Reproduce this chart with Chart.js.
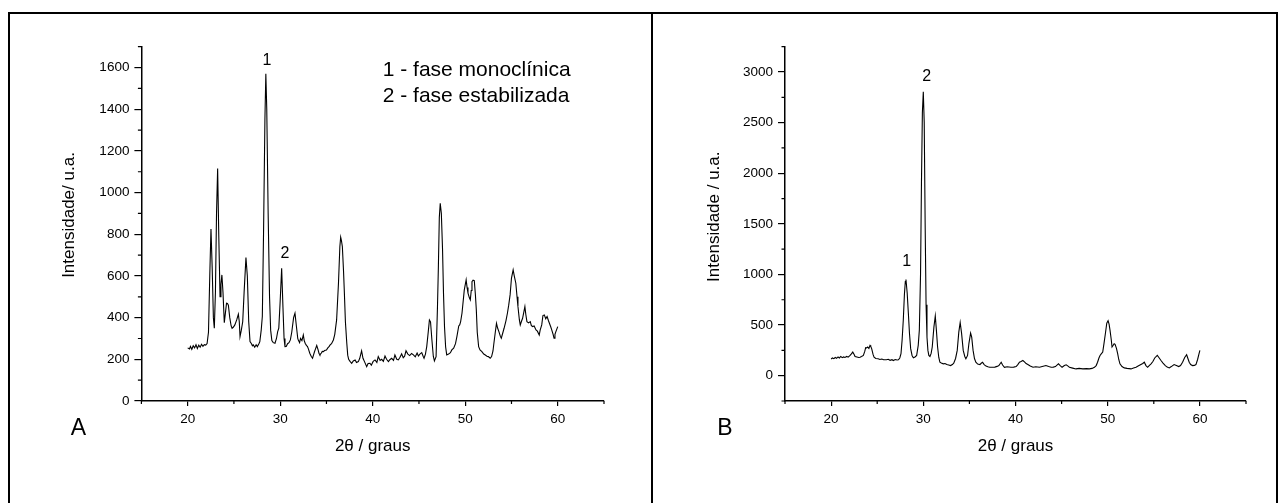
<!DOCTYPE html>
<html>
<head>
<meta charset="utf-8">
<script src="https://cdn.jsdelivr.net/npm/chart.js@4.4.1/dist/chart.umd.min.js"></script>
<style>
  body { margin: 0; background: #fff; width: 1283px; height: 503px; overflow: hidden; position: relative; }
  .frame { position: absolute; top: 12px; height: 520px; border-top: 2px solid #000; border-right: 2px solid #000; }
  #frameA { left: 8px; width: 641px; border-left: 2px solid #000; }
  #frameB { left: 653px; width: 623px; }
  .box { position: absolute; top: 0; height: 503px; }
  #boxA { left: 0; width: 651px; }
  #boxB { left: 651px; width: 632px; }
</style>
</head>
<body>
<div class="frame" id="frameA"></div>
<div class="frame" id="frameB"></div>
<div class="box" id="boxA"><canvas id="chartA"></canvas></div>
<div class="box" id="boxB"><canvas id="chartB"></canvas></div>
<script>
const thetaA = [20.0, 20.2, 20.3, 20.45, 20.6, 20.75, 20.9, 21.05, 21.2, 21.35, 21.5, 21.65, 21.8, 21.95, 22.1, 22.25, 22.4, 22.52, 22.65, 22.78, 22.88, 23.0, 23.12, 23.24, 23.36, 23.5, 23.6, 23.7, 23.82, 23.96,
  24.1, 24.2, 24.3, 24.4, 24.55, 24.7, 24.8, 24.95, 25.1, 25.3, 25.48, 25.58, 25.66, 25.8, 25.95, 26.1, 26.3, 26.45, 26.6, 26.74, 26.9, 27.0, 27.1, 27.25, 27.4, 27.53, 27.7, 27.8, 27.95, 28.07,
  28.2, 28.35, 28.45, 28.55, 28.7, 28.85, 28.97, 29.1, 29.25, 29.44, 29.6, 29.73, 29.85, 30.0, 30.16, 30.3, 30.42, 30.52, 30.65, 30.8, 30.95, 31.1, 31.25, 31.45, 31.6, 31.75, 31.9, 31.96, 32.1, 32.2,
  32.35, 32.5, 32.6, 32.7, 32.85, 32.94, 33.05, 33.2, 33.35, 33.5, 33.6, 33.7, 33.8, 33.95, 34.1, 34.2, 34.3, 34.45, 34.55, 34.67, 34.8, 35.0, 35.15, 35.3, 35.4, 35.55, 35.75, 35.9, 36.1, 36.3,
  36.45, 36.54, 36.62, 36.72, 36.85, 36.94, 37.05, 37.2, 37.3, 37.4, 37.55, 37.73, 37.9, 38.1, 38.25, 38.45, 38.6, 38.8, 38.95, 39.1, 39.35, 39.5, 39.7, 39.85, 40.05, 40.25, 40.45, 40.6, 40.8, 40.97,
  41.15, 41.33, 41.5, 41.7, 41.85, 42.05, 42.25, 42.4, 42.6, 42.77, 42.95, 43.13, 43.3, 43.45, 43.6, 43.8, 44.0, 44.2, 44.4, 44.6, 44.8, 44.94, 45.1, 45.3, 45.45, 45.55, 45.7, 45.84, 46.0, 46.13,
  46.25, 46.4, 46.55, 46.67, 46.85, 47.0, 47.1, 47.2, 47.3, 47.42, 47.55, 47.65, 47.76, 47.88, 48.0, 48.2, 48.4, 48.55, 48.75, 48.95, 49.1, 49.3, 49.4, 49.5, 49.65, 49.9, 50.1, 50.2, 50.3, 50.45,
  50.55, 50.65, 50.73, 50.85, 50.98, 51.1, 51.2, 51.3, 51.45, 51.6, 51.8, 52.0, 52.17, 52.35, 52.5, 52.7, 52.85, 53.0, 53.1, 53.25, 53.38, 53.5, 53.64, 53.8, 53.9, 54.05, 54.2, 54.4, 54.56, 54.7,
  54.85, 55.0, 55.18, 55.3, 55.47, 55.6, 55.7, 55.85, 55.95, 56.1, 56.2, 56.35, 56.45, 56.55, 56.67, 56.85, 57.03, 57.15, 57.3, 57.45, 57.65, 57.8, 58.0, 58.1, 58.27, 58.4, 58.55, 58.7, 58.85, 59.0,
  59.1, 59.25, 59.35, 59.5, 59.6, 59.7, 59.8, 59.9, 60.0];
const intensA = [255, 250, 262, 248, 265, 255, 270, 252, 268, 258, 272, 262, 270, 268, 276, 330, 620, 825, 640, 400, 349, 520, 900, 1115, 800, 500, 560, 605, 520, 376,
  430, 469, 468, 460, 400, 360, 349, 355, 365, 389, 416, 380, 309, 340, 380, 520, 688, 600, 380, 285, 275, 265, 269, 258, 270, 261, 275, 285, 340, 405,
  800, 1350, 1570, 1400, 900, 500, 340, 290, 280, 277, 300, 333, 350, 480, 637, 450, 300, 261, 262, 275, 280, 293, 330, 400, 421, 360, 300, 293, 280, 300,
  290, 317, 290, 277, 266, 262, 250, 229, 215, 205, 220, 235, 248, 266, 245, 228, 221, 230, 238, 237, 242, 245, 255, 262, 269, 275, 293, 320, 389, 565,
  740, 786, 770, 741, 620, 517, 380, 277, 220, 200, 190, 181, 192, 197, 185, 189, 205, 241, 205, 190, 165, 180, 181, 172, 190, 197, 185, 213, 195, 200,
  190, 216, 200, 189, 198, 205, 195, 221, 200, 197, 210, 226, 208, 215, 241, 225, 218, 228, 221, 212, 230, 216, 225, 232, 215, 205, 225, 261, 330, 389,
  380, 293, 215, 192, 213, 450, 645, 880, 949, 900, 725, 520, 357, 260, 221, 225, 232, 245, 253, 275, 309, 360, 365, 380, 421, 533, 581, 545, 517, 495,
  485, 530, 573, 580, 578, 510, 437, 330, 261, 245, 237, 225, 221, 215, 213, 205, 213, 240, 277, 330, 373, 350, 333, 310, 301, 325, 349, 385, 421, 460,
  509, 590, 629, 600, 565, 500, 453, 390, 365, 385, 397, 430, 453, 415, 381, 375, 381, 362, 357, 360, 341, 335, 317, 340, 365, 410, 413, 395, 405, 385,
  373, 355, 341, 320, 301, 320, 333, 345, 357];

const thetaB = [20.0, 20.15, 20.3, 20.45, 20.6, 20.75, 20.9, 21.05, 21.2, 21.35, 21.5, 21.7, 21.85, 22.06, 22.2, 22.35, 22.5, 22.6, 22.8, 23.0, 23.14, 23.3, 23.5, 23.65, 23.75, 23.85, 23.97, 24.1, 24.22, 24.3,
  24.4, 24.55, 24.66, 24.85, 25.1, 25.3, 25.5, 25.7, 26.0, 26.2, 26.4, 26.6, 26.75, 26.95, 27.15, 27.3, 27.45, 27.58, 27.7, 27.83, 27.95, 28.05, 28.12, 28.25, 28.38, 28.5, 28.63, 28.78, 28.92, 29.1,
  29.28, 29.45, 29.57, 29.7, 29.8, 29.9, 30.0, 30.1, 30.2, 30.3, 30.4, 30.5, 30.6, 30.72, 30.85, 30.97, 31.15, 31.3, 31.42, 31.55, 31.68, 31.8, 31.95, 32.17, 32.35, 32.55, 32.75, 32.96, 33.15, 33.3,
  33.5, 33.68, 33.85, 34.0, 34.15, 34.33, 34.5, 34.62, 34.8, 34.95, 35.13, 35.25, 35.4, 35.55, 35.7, 35.9, 36.14, 36.28, 36.43, 36.6, 36.8, 37.0, 37.2, 37.5, 37.76, 38.0, 38.2, 38.35, 38.45, 38.6,
  38.8, 39.1, 39.5, 39.8, 40.07, 40.25, 40.43, 40.6, 40.8, 41.0, 41.15, 41.34, 41.6, 41.9, 42.2, 42.6, 42.9, 43.3, 43.6, 43.86, 44.1, 44.33, 44.5, 44.66, 44.85, 45.05, 45.3, 45.5, 45.7, 45.85,
  46.2, 46.57, 46.9, 47.3, 47.7, 48.0, 48.3, 48.56, 48.75, 48.9, 49.05, 49.17, 49.3, 49.46, 49.6, 49.75, 49.9, 50.04, 50.15, 50.25, 50.38, 50.47, 50.6, 50.7, 50.8, 50.95, 51.08, 51.2, 51.33, 51.55,
  51.8, 52.1, 52.53, 52.8, 53.07, 53.3, 53.6, 53.8, 53.97, 54.15, 54.33, 54.5, 54.7, 54.9, 55.1, 55.38, 55.55, 55.78, 56.0, 56.25, 56.45, 56.68, 56.9, 57.2, 57.45, 57.7, 57.9, 58.12, 58.35, 58.56,
  58.7, 58.84, 59.0, 59.2, 59.4, 59.57, 59.75, 59.9, 60.0];
const intensB = [165, 175, 168, 180, 172, 185, 175, 190, 178, 185, 180, 190, 183, 200, 215, 233, 210, 190, 185, 180, 183, 190, 200, 240, 277, 275, 283, 270, 300, 290,
  267, 210, 183, 170, 167, 160, 165, 158, 157, 162, 152, 158, 150, 160, 155, 157, 175, 217, 350, 550, 800, 930, 950, 820, 617, 420, 267, 200, 177, 185,
  200, 300, 450, 1000, 1900, 2600, 2805, 2500, 1500, 700, 380, 250, 200, 190, 220, 283, 480, 590, 450, 283, 180, 133, 125, 117, 120, 110, 105, 100, 110, 123,
  170, 250, 430, 525, 420, 250, 190, 167, 200, 320, 420, 380, 250, 170, 133, 115, 110, 123, 133, 110, 95, 88, 83, 83, 85, 92, 100, 120, 133, 105,
  83, 88, 83, 85, 90, 110, 133, 140, 150, 135, 120, 110, 95, 83, 88, 83, 90, 100, 90, 83, 85, 90, 105, 117, 100, 83, 100, 107, 95, 83,
  75, 67, 72, 67, 70, 67, 72, 83, 100, 133, 175, 200, 215, 233, 320, 417, 520, 543, 510, 450, 360, 283, 300, 315, 310, 270, 217, 160, 117, 90,
  77, 72, 67, 75, 83, 95, 110, 120, 133, 100, 83, 100, 117, 140, 175, 200, 180, 150, 125, 100, 85, 77, 90, 110, 100, 90, 100, 133, 180, 207,
  170, 133, 110, 100, 102, 110, 160, 215, 250];

// eixos
const xMajorTicks = [20, 30, 40, 50, 60];
const xMinorTicks = [15, 25, 35, 45, 55, 65];
const yMajorTicksA = [0, 200, 400, 600, 800, 1000, 1200, 1400, 1600];
const yMinorTicksA = [100, 300, 500, 700, 900, 1100, 1300, 1500, 1700];
const yMajorTicksB = [0, 500, 1000, 1500, 2000, 2500, 3000];
const yMinorTicksB = [-250, 250, 750, 1250, 1750, 2250, 2750, 3250];

const FONT = "'Liberation Sans', Arial, sans-serif";
Chart.defaults.font.family = FONT;
Chart.defaults.color = '#000';

// ticks secundários (menores) desenhados a partir das escalas
const minorTicksPlugin = {
    id: 'minorTicks',
    afterDraw(chart, args, opts) {
        const ctx = chart.ctx;
        const xs = chart.scales.x, ys = chart.scales.y;
        ctx.save();
        ctx.strokeStyle = '#000';
        ctx.lineWidth = 1.2;
        ctx.beginPath();
        (opts.x || []).forEach(v => {
            const px = xs.getPixelForValue(v);
            ctx.moveTo(px, xs.top);
            ctx.lineTo(px, xs.top + 3);
        });
        (opts.y || []).forEach(v => {
            const py = ys.getPixelForValue(v);
            ctx.moveTo(ys.right, py);
            ctx.lineTo(ys.right - 3.5, py);
        });
        ctx.stroke();
        ctx.restore();
    }
};

// textos: rótulos de picos (coordenadas de dados) e textos livres (pixels)
const panelTextPlugin = {
    id: 'panelText',
    afterDraw(chart, args, opts) {
        const ctx = chart.ctx;
        ctx.save();
        ctx.fillStyle = '#000';
        (opts.items || []).forEach(it => {
            let x = it.x, y = it.y;
            if (it.data) {
                x = chart.scales.x.getPixelForValue(it.x);
                y = chart.scales.y.getPixelForValue(it.y);
            }
            ctx.save();
            ctx.font = it.size + 'px ' + FONT;
            ctx.textAlign = it.align || 'center';
            ctx.textBaseline = 'middle';
            ctx.translate(x, y);
            if (it.rotate) ctx.rotate(it.rotate);
            ctx.fillText(it.text, 0, 0);
            ctx.restore();
        });
        ctx.restore();
    }
};

function makeChart(id, xs, ys, cfg) {
    const points = xs.map((x, i) => ({ x: x, y: ys[i] }));
    return new Chart(document.getElementById(id), {
        type: 'line',
        data: {
            datasets: [{
                data: points,
                borderColor: '#000',
                borderWidth: 1.1,
                pointRadius: 0,
                tension: 0,
                fill: false
            }]
        },
        options: {
            responsive: true,
            maintainAspectRatio: false,
            animation: false,
            layout: { padding: { left: cfg.padLeft, top: 46.7, right: cfg.padRight, bottom: 0 } },
            scales: {
                x: {
                    type: 'linear',
                    min: 15,
                    max: 65,
                    afterBuildTicks: s => { s.ticks = xMajorTicks.map(v => ({ value: v })); },
                    afterFit: s => { s.height = 503 - 401; },
                    border: { display: true, color: '#000', width: 1.5 },
                    grid: { drawOnChartArea: false, drawTicks: true, tickLength: 5, color: '#000', lineWidth: 1.2 },
                    ticks: { padding: 5, font: { size: 13.5 }, color: '#000', maxRotation: 0, callback: v => String(v) },
                    title: { display: true, text: '2θ / graus', font: { size: 17 }, color: '#000', padding: { top: 0, bottom: 46.8 } }
                },
                y: {
                    type: 'linear',
                    min: cfg.yMin,
                    max: cfg.yMax,
                    afterBuildTicks: s => { s.ticks = cfg.yMajor.map(v => ({ value: v })); },
                    afterFit: s => { s.width = cfg.yWidth; },
                    border: { display: true, color: '#000', width: 1.5 },
                    grid: { drawOnChartArea: false, drawTicks: true, tickLength: 7, color: '#000', lineWidth: 1.2 },
                    ticks: { padding: 5, font: { size: 13.5 }, color: '#000', callback: v => String(v) }
                }
            },
            plugins: {
                legend: { display: false },
                tooltip: { enabled: false },
                minorTicks: { x: xMinorTicks, y: cfg.yMinor },
                panelText: { items: cfg.texts }
            }
        },
        plugins: [minorTicksPlugin, panelTextPlugin]
    });
}

makeChart('chartA', thetaA, intensA, {
    padLeft: 40, padRight: 47, yWidth: 101.4,
    yMin: 0, yMax: 1700, yMajor: yMajorTicksA, yMinor: yMinorTicksA,
    texts: [
        { text: 'Intensidade/ u.a.', x: 69.4, y: 215, size: 17, rotate: -Math.PI / 2 },
        { text: 'A', x: 78.3, y: 428.3, size: 23 },
        { text: '1 - fase monoclínica', x: 382.7, y: 70, size: 21, align: 'left' },
        { text: '2 - fase estabilizada', x: 382.7, y: 96.7, size: 21, align: 'left' },
        { text: '1', data: true, x: 28.57, y: 1632, size: 16 },
        { text: '2', data: true, x: 30.52, y: 709, size: 16 }
    ]
});

makeChart('chartB', thetaB, intensB, {
    padLeft: 40, padRight: 37, yWidth: 94,
    yMin: -250, yMax: 3250, yMajor: yMajorTicksB, yMinor: yMinorTicksB,
    texts: [
        { text: 'Intensidade / u.a.', x: 63, y: 216.7, size: 17, rotate: -Math.PI / 2 },
        { text: 'B', x: 74, y: 428.3, size: 23 },
        { text: '2', data: true, x: 30.37, y: 2958, size: 16 },
        { text: '1', data: true, x: 28.2, y: 1127, size: 16 }
    ]
});
</script>
</body>
</html>
